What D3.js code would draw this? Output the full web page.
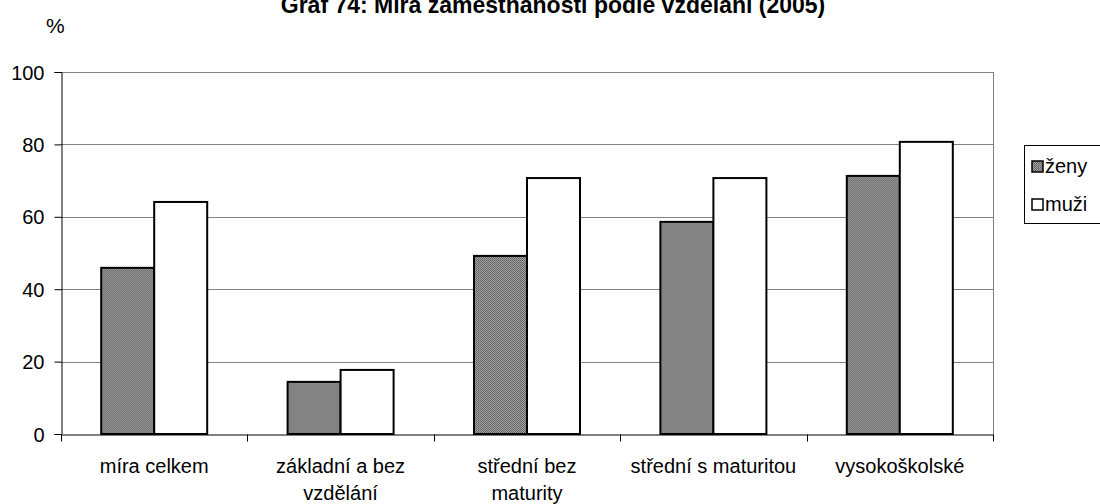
<!DOCTYPE html>
<html>
<head>
<meta charset="utf-8">
<script src="https://cdn.jsdelivr.net/npm/d3@7"></script>
<style>
  body { margin: 0; background: #fff; }
  text { font-family: "Liberation Sans", Arial, sans-serif; fill: #000; }
</style>
</head>
<body>
<div id="chart"></div>
<script>
"use strict"
// Data
var categories = ["míra celkem", "základní a bez vzdělání", "střední bez maturity", "střední s maturitou", "vysokoškolské"];
var categoryLines = [["míra celkem"], ["základní a bez", "vzdělání"], ["střední bez", "maturity"], ["střední s maturitou"], ["vysokoškolské"]];
var seriesNames = ["ženy", "muži"];
var zeny = [45.9, 14.4, 49.2, 58.6, 71.3];
var muzi = [64.1, 17.7, 70.7, 70.7, 80.7];
var yTicks = [0, 20, 40, 60, 80, 100];
var title = "Graf 74: Míra zaměstnanosti podle vzdělání (2005)";

var width = 1100, height = 504;
var margin = { top: 72, right: 107, bottom: 70, left: 61 };
var drawWidth = width - margin.left - margin.right;
var drawHeight = height - margin.top - margin.bottom;

var svg = d3.select("#chart").append("svg")
    .attr("width", width)
    .attr("height", height);

// hatched fill for ženy
var defs = svg.append("defs");
var pat = defs.append("pattern")
    .attr("id", "hatch")
    .attr("patternUnits", "userSpaceOnUse")
    .attr("width", 2).attr("height", 2);
pat.append("rect").attr("width", 2).attr("height", 2).attr("fill", "#a0a0a0");
pat.append("rect").attr("width", 1).attr("height", 1).attr("fill", "#606060");
pat.append("rect").attr("x", 1).attr("y", 1).attr("width", 1).attr("height", 1).attr("fill", "#6c6c6c");

var xScale = d3.scaleBand().domain(categories).range([0, drawWidth]).paddingInner(0).paddingOuter(0);
var xInner = d3.scaleBand().domain(seriesNames).range([0, 106]);
var yScale = d3.scaleLinear().domain([0, 100]).range([drawHeight, 0]);

var g = svg.append("g").attr("transform", "translate(" + margin.left + "," + margin.top + ")");

// gridlines
g.selectAll(".grid").data(yTicks.filter(function (d) { return d > 0; }))
  .enter().append("line")
    .attr("x1", 0).attr("x2", drawWidth)
    .attr("y1", function (d) { return Math.round(yScale(d)) + 0.5; })
    .attr("y2", function (d) { return Math.round(yScale(d)) + 0.5; })
    .attr("stroke", "#808080").attr("stroke-width", 1);

// right border of plot area
g.append("line")
    .attr("x1", drawWidth + 0.5).attr("x2", drawWidth + 0.5)
    .attr("y1", 0).attr("y2", drawHeight)
    .attr("stroke", "#808080");

// bars
var data = categories.map(function (c, i) {
    return { cat: c, values: [{ key: "ženy", v: zeny[i] }, { key: "muži", v: muzi[i] }] };
});
var groups = g.selectAll(".grp").data(data).enter().append("g")
    .attr("transform", function (d) { return "translate(" + (xScale(d.cat) + xScale.bandwidth() / 2 - 53) + ",0)"; });
groups.selectAll("rect").data(function (d) { return d.values; })
  .enter().append("rect")
    .attr("x", function (d) { return xInner(d.key); })
    .attr("y", function (d) { return yScale(d.v); })
    .attr("width", xInner.bandwidth())
    .attr("height", function (d) { return drawHeight - yScale(d.v); })
    .attr("fill", function (d) { return d.key === "ženy" ? "url(#hatch)" : "#fff"; })
    .attr("stroke", "#000").attr("stroke-width", 2);

// y axis
var yAxis = d3.axisLeft(yScale).tickValues(yTicks).tickSize(7).tickPadding(10);
var yG = g.append("g").attr("transform", "translate(0.5,0)").call(yAxis);
yG.select(".domain").attr("stroke", "#000");
yG.selectAll("text").style("font-size", "20px").attr("dy", "0.35em");

// x axis
var xAxis = d3.axisBottom(xScale).tickValues([]).tickSizeOuter(0);
var xG = g.append("g").attr("transform", "translate(0," + (drawHeight + 0.5) + ")").call(xAxis);
xG.select(".domain").attr("stroke", "#000");
var tickPos = d3.range(categories.length + 1).map(function (i) { return i * xScale.step(); });
xG.selectAll(".xt").data(tickPos).enter().append("line")
    .attr("x1", function (d) { return Math.round(d) + 0.5; })
    .attr("x2", function (d) { return Math.round(d) + 0.5; })
    .attr("y1", 0).attr("y2", 7).attr("stroke", "#000");

var labels = g.selectAll(".xl").data(categories).enter().append("text")
    .attr("text-anchor", "middle")
    .style("font-size", "20px")
    .attr("transform", function (d) { return "translate(" + (xScale(d) + xScale.bandwidth() / 2) + "," + (drawHeight + 39) + ")"; });
labels.selectAll("tspan").data(function (d, i) { return categoryLines[i]; })
  .enter().append("tspan")
    .attr("x", 0)
    .attr("dy", function (d, i) { return i === 0 ? 0 : 27; })
    .text(function (d) { return d; });

// title and unit
svg.append("text")
    .attr("x", 553).attr("y", 13)
    .attr("text-anchor", "middle")
    .style("font-size", "23px").style("font-weight", "bold")
    .text(title);
svg.append("text")
    .attr("x", 46).attr("y", 33)
    .style("font-size", "21px")
    .text("%");

// legend
var leg = svg.append("g").attr("transform", "translate(1024,145)");
leg.append("rect")
    .attr("x", 0.5).attr("y", 0.5).attr("width", 100).attr("height", 78)
    .attr("fill", "#fff").attr("stroke", "#000");
var legItems = leg.selectAll(".li").data(seriesNames).enter().append("g")
    .attr("transform", function (d, i) { return "translate(8," + (16 + i * 38) + ")"; });
legItems.append("rect")
    .attr("width", 11).attr("height", 11)
    .attr("fill", function (d) { return d === "ženy" ? "url(#hatch)" : "#fff"; })
    .attr("stroke", "#000").attr("stroke-width", 1.5);
legItems.append("text")
    .attr("x", 13).attr("y", 12)
    .style("font-size", "20px")
    .text(function (d) { return d; });
</script>
</body>
</html>
